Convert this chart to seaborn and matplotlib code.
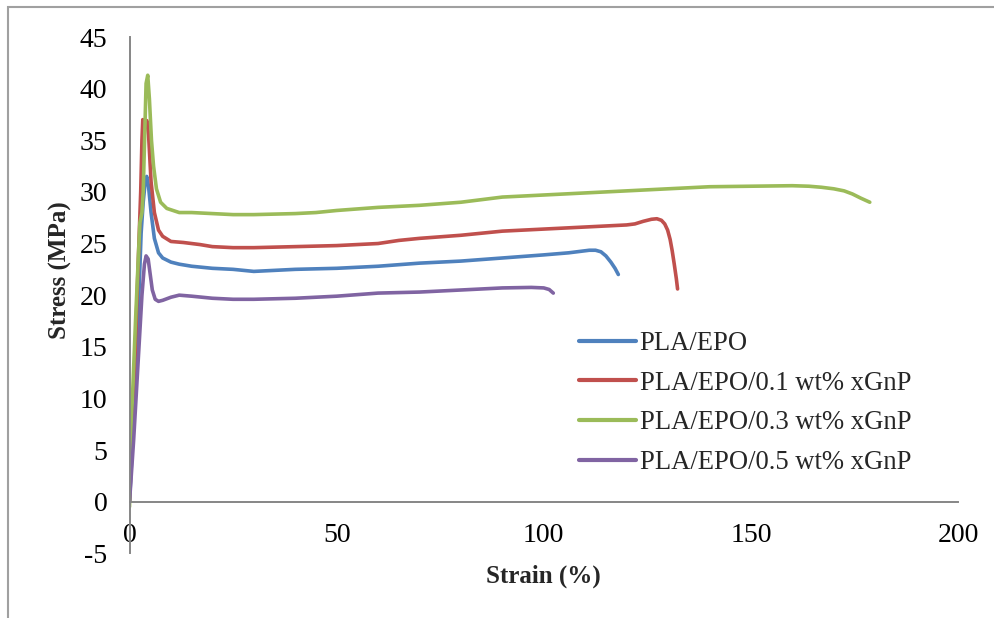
import matplotlib
matplotlib.use("Agg")
import matplotlib.pyplot as plt
import seaborn as sns
import pandas as pd
from matplotlib.patches import Rectangle
from matplotlib.lines import Line2D

series_names = ["PLA/EPO", "PLA/EPO/0.1 wt% xGnP", "PLA/EPO/0.3 wt% xGnP", "PLA/EPO/0.5 wt% xGnP"]
colors = ["#4F81BD", "#C0504D", "#9BBB59", "#8064A2"]

x_epo = [0, 1, 2, 2.8, 3.3, 3.8, 4.15, 4.6, 5.2, 6, 7, 8, 10, 12, 15, 20, 25, 30, 40, 50, 60, 70, 80, 90, 100, 106, 109, 111, 112.5, 113.8, 115, 116.2, 117.2, 118]
y_epo = [0, 8, 17, 26, 29, 31, 31.5, 30.5, 28, 25.5, 24.1, 23.6, 23.2, 23.0, 22.8, 22.6, 22.5, 22.3, 22.5, 22.6, 22.8, 23.1, 23.3, 23.6, 23.9, 24.1, 24.25, 24.35, 24.35, 24.2, 23.8, 23.2, 22.6, 22.0]

x_01 = [0, 1, 2, 2.7, 3.0, 3.2, 3.6, 4.2, 4.6, 5.2, 6, 7, 8, 10, 13, 17, 20, 25, 30, 40, 50, 60, 65, 70, 80, 90, 100, 110, 120, 122, 124, 126, 127.3, 128.4, 129.2, 129.9, 130.5, 131.0, 131.5, 132.0, 132.3]
y_01 = [0, 10, 22, 30, 35, 37, 36.2, 36.9, 35.5, 31, 28, 26.3, 25.7, 25.2, 25.1, 24.9, 24.7, 24.6, 24.6, 24.7, 24.8, 25.0, 25.3, 25.5, 25.8, 26.2, 26.4, 26.6, 26.8, 26.9, 27.15, 27.35, 27.4, 27.25, 26.9, 26.3, 25.4, 24.3, 23.0, 21.6, 20.6]

x_03 = [0, 0.5, 1.5, 2.5, 3.0, 3.3, 3.7, 4.0, 4.4, 4.8, 5.3, 5.8, 6.5, 7.5, 9, 12, 15, 20, 25, 30, 40, 45, 50, 60, 70, 80, 90, 100, 110, 120, 130, 140, 150, 160, 164, 167, 170, 172.5, 174.5, 176.5, 178.7]
y_03 = [-0.5, 8, 18, 27, 28, 30, 36, 40.5, 41.3, 39, 35, 32.5, 30.3, 29, 28.4, 28.0, 28.0, 27.9, 27.8, 27.8, 27.9, 28.0, 28.2, 28.5, 28.7, 29.0, 29.5, 29.7, 29.9, 30.1, 30.3, 30.5, 30.55, 30.6, 30.55, 30.45, 30.3, 30.1, 29.8, 29.4, 29.0]

x_05 = [0, 1, 2, 3, 3.6, 4, 4.5, 5, 5.5, 6.2, 7, 8, 10, 12, 15, 20, 25, 30, 40, 50, 60, 70, 80, 90, 97, 100, 101.3, 102.3]
y_05 = [0, 6, 13, 20, 23, 23.8, 23.5, 22, 20.5, 19.6, 19.4, 19.5, 19.8, 20.0, 19.9, 19.7, 19.6, 19.6, 19.7, 19.9, 20.2, 20.3, 20.5, 20.7, 20.75, 20.7, 20.55, 20.2]

x_ticks = [0, 50, 100, 150, 200]
y_ticks = [-5, 0, 5, 10, 15, 20, 25, 30, 35, 40, 45]

frames = []
for name, xs, ys in zip(series_names, [x_epo, x_01, x_03, x_05], [y_epo, y_01, y_03, y_05]):
    frames.append(pd.DataFrame({"Strain": xs, "Stress": ys, "Sample": name}))
df = pd.concat(frames, ignore_index=True)

sns.set_style("white")
plt.rcParams["font.family"] = ["Liberation Serif", "DejaVu Serif"]

fig = plt.figure(figsize=(9.94, 6.18), dpi=100)
ax = fig.add_axes([0.1303, 0.1047, 0.9638 - 0.1303, 0.9401 - 0.1047])

sns.lineplot(data=df, x="Strain", y="Stress", hue="Sample", palette=colors,
             sort=False, estimator=None, units="Sample", linewidth=2.6, ax=ax, legend=False)
for ln in ax.lines:
    ln.set_solid_joinstyle("round")
    ln.set_solid_capstyle("round")

ax.set_xlim(0, 200)
ax.set_ylim(-5, 45)
ax.set_xticks(x_ticks)
ax.set_yticks(y_ticks)
ax.set_xticklabels([str(v) for v in x_ticks])
ax.set_yticklabels([str(v) for v in y_ticks])

for s in ["top", "right"]:
    ax.spines[s].set_visible(False)
ax.spines["bottom"].set_position(("data", 0))
for s in ["left", "bottom"]:
    ax.spines[s].set_color("#868686")
    ax.spines[s].set_linewidth(1.4)

ax.tick_params(axis="both", which="both", direction="out", length=6, width=1.4,
               color="#868686", labelsize=20, labelcolor="black")
ax.tick_params(axis="y", pad=10)
ax.tick_params(axis="x", pad=9)
ax.set_xlabel("")
ax.set_ylabel("")

fig.text(543 / 994, 1 - 576 / 618, "Strain (%)", ha="center", va="center",
         fontsize=18, fontweight="bold")
fig.text(60 / 994, 1 - 270 / 618, "Stress (MPa)", ha="center", va="center",
         rotation=90, fontsize=18, fontweight="bold")

handles = [Line2D([], [], color=c, linewidth=3) for c in colors]
leg = ax.legend(handles, series_names, loc="upper left",
                bbox_to_anchor=(579 / 994, 1 - 331 / 618), bbox_transform=fig.transFigure,
                frameon=False, fontsize=19.2, handlelength=2.15, handletextpad=0.12,
                labelspacing=0.55, borderpad=0, borderaxespad=0)

fig.patches.append(Rectangle((8 / 994, -0.1), 1.2, 1 - 7 / 618 + 0.1, transform=fig.transFigure,
                             fill=False, edgecolor="#A0A0A0", linewidth=1.5, figure=fig))

fig.savefig("out.png", dpi=100)
